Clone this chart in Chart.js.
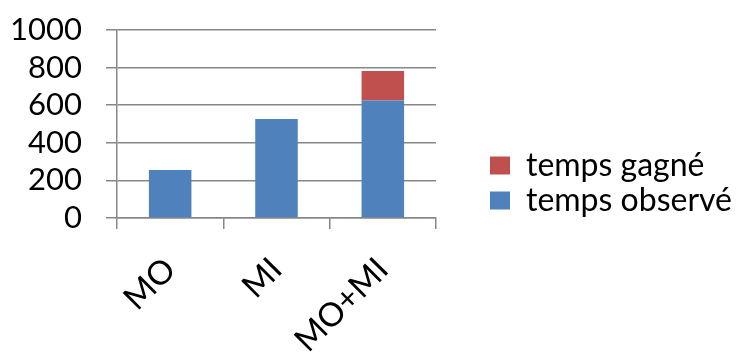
<!DOCTYPE html>
<html><head><meta charset="utf-8">
<script src="https://cdn.jsdelivr.net/npm/chart.js@4/dist/chart.umd.min.js"></script>
<style>html,body{margin:0;padding:0;background:#fff}#wrap{width:742px;height:352px}</style>
</head><body><div id="wrap"><canvas id="c" width="742" height="352"></canvas></div>
<script>
const categories = ["MO", "MI", "MO+MI"];
const tempsObserve = [255, 526, 625];
const tempsGagne = [null, null, 157];
const seriesNames = ["temps observé", "temps gagné"];
const yMin = 0, yMax = 1000, yStep = 200;

const GRID = "#878787";
const FONT = "Lato";

new Chart(document.getElementById("c"), {
  type: "bar",
  data: {
    labels: categories,
    datasets: [
      { label: seriesNames[0], data: tempsObserve, backgroundColor: "#4F81BD", borderWidth: 0, barPercentage: 0.4, categoryPercentage: 1 },
      { label: seriesNames[1], data: tempsGagne, backgroundColor: "#C0504D", borderWidth: 0, barPercentage: 0.4, categoryPercentage: 1 }
    ]
  },
  options: {
    responsive: false,
    animation: false,
    layout: { padding: { top: 14, left: 0, right: 0, bottom: 0 } },
    plugins: {
      tooltip: { enabled: false },
      legend: {
        position: "right",
        reverse: true,
        maxWidth: 300,
        labels: {
          boxWidth: 20, boxHeight: 18, padding: 3,
          color: "#000",
          font: { family: FONT, size: 32 }
        }
      }
    },
    scales: {
      x: {
        stacked: true,
        grid: { display: true, drawOnChartArea: false, drawTicks: true, tickLength: 11, color: GRID, lineWidth: 1.5, offset: true },
        border: { display: true, color: GRID, width: 1.5 },
        ticks: { color: "#000", font: { family: FONT, size: 33 }, minRotation: 45, maxRotation: 45, autoSkip: false, padding: 21 },
        afterFit(s) { s.height = 134; s.paddingLeft = 0; s.paddingRight = 0; }
      },
      y: {
        stacked: true,
        min: yMin, max: yMax,
        grid: { color: GRID, lineWidth: 1.5, tickLength: 11, drawTicks: true },
        border: { display: true, color: GRID, width: 1.5 },
        ticks: { stepSize: yStep, autoSkip: false, color: "#000", font: { family: FONT, size: 31 }, padding: 24,
                 callback: (v) => String(v) },
        afterFit(s) { s.width = 117; s.paddingTop = 30; s.paddingBottom = 0; }
      },
      y2: {
        position: "right",
        display: true,
        grid: { display: false, drawTicks: false },
        border: { display: false },
        ticks: { display: false },
        afterFit(s) { s.width = Math.max(0, s.chart.width - s.chart.legend.width - 436); s.paddingTop = 0; s.paddingBottom = 0; }
      }
    }
  }
});
</script>
</body></html>
